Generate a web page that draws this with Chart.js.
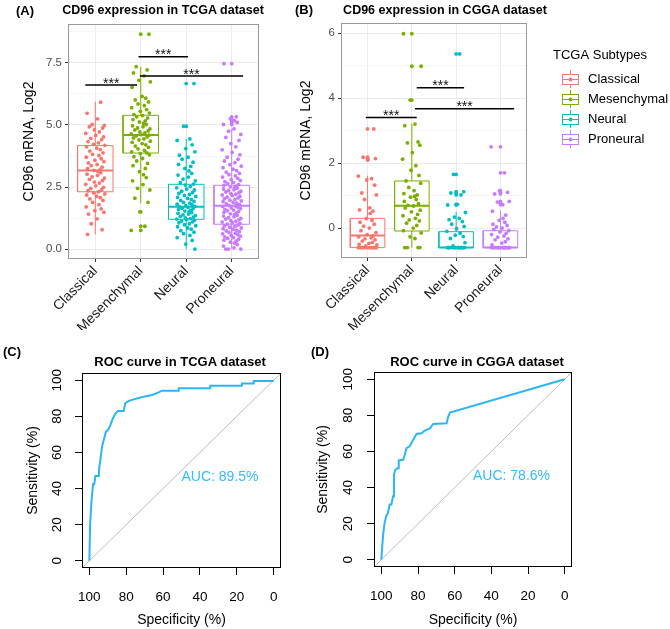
<!DOCTYPE html>
<html>
<head>
<meta charset="utf-8">
<script src="https://cdn.jsdelivr.net/npm/chart.js@4.4.1/dist/chart.umd.min.js"></script>
<style>
  body { margin: 0; background: #fff; width: 670px; height: 629px; position: relative; overflow: hidden; font-family: 'Liberation Sans', Arial, sans-serif; }
  canvas { position: absolute; }
  .lbl { position: absolute; white-space: nowrap; transform: translate(-50%, -50%); font-weight: bold; color: #000; }
</style>
</head>
<body>
<canvas id="chartA" width="290" height="330" style="left:0;top:0"></canvas>
<canvas id="chartB" width="380" height="330" style="left:290px;top:0"></canvas>
<canvas id="chartC" width="300" height="309" style="left:0;top:320px"></canvas>
<canvas id="chartD" width="370" height="309" style="left:300px;top:320px"></canvas>

<div class="lbl" style="left:25px;top:10px;font-size:13px">(A)</div>
<div class="lbl" style="left:163px;top:10px;font-size:12.5px">CD96 expression in TCGA dataset</div>
<div class="lbl" style="left:304px;top:9px;font-size:13px">(B)</div>
<div class="lbl" style="left:445px;top:10px;font-size:12.5px">CD96 expression in CGGA dataset</div>
<div class="lbl" style="left:12px;top:351px;font-size:13px">(C)</div>
<div class="lbl" style="left:180px;top:361px;font-size:13px">ROC curve in TCGA dataset</div>
<div class="lbl" style="left:320px;top:351px;font-size:13px">(D)</div>
<div class="lbl" style="left:477px;top:361px;font-size:13px">ROC curve in CGGA dataset</div>

<script>
const FONT = "'Liberation Sans', Arial, sans-serif";
Chart.defaults.font.family = FONT;
Chart.defaults.animation = false;

const subtypes = ['Classical', 'Mesenchymal', 'Neural', 'Proneural'];
const subtypeColors = ['#F8766D', '#7CAE00', '#00BFC4', '#C77CFF'];

// --- panel A: TCGA, CD96 mRNA (log2) per subtype ---
const tcgaClassical = [5.92, 5.47, 5.25, 5.02, 4.98, 4.93, 4.88, 4.80, 4.72, 4.66, 4.58, 4.52, 4.46, 4.41, 4.33, 4.28, 4.22, 4.18, 4.12, 4.07,
  4.01, 3.95, 3.88, 3.82, 3.77, 3.70, 3.64, 3.58, 3.52, 3.47, 3.41, 3.36, 3.30, 3.24, 3.19, 3.17, 3.13, 3.08, 3.02, 2.97,
  2.91, 2.86, 2.81, 2.76, 2.70, 2.66, 2.61, 2.55, 2.49, 2.44, 2.39, 2.35, 2.31, 2.27, 2.22, 2.18, 2.13, 2.07, 2.02, 1.96,
  1.88, 1.79, 1.70, 1.62, 1.55, 1.48, 1.41, 1.22, 1.02, 0.78, 0.59];
const tcgaMesenchymal = [8.66, 7.35, 7.22, 7.10, 6.98, 6.80, 6.74, 6.52, 6.15, 6.08, 6.01, 5.93, 5.85, 5.78, 5.70, 5.62, 5.55, 5.48, 5.42, 5.38,
  5.33, 5.28, 5.22, 5.17, 5.12, 5.07, 5.02, 4.97, 4.93, 4.88, 4.84, 4.80, 4.76, 4.72, 4.68, 4.64, 4.61, 4.59, 4.56, 4.52,
  4.48, 4.44, 4.40, 4.35, 4.30, 4.25, 4.20, 4.15, 4.10, 4.04, 3.98, 3.92, 3.88, 3.85, 3.80, 3.72, 3.65, 3.55, 3.45, 3.36,
  3.25, 3.12, 3.00, 2.88, 2.75, 2.60, 2.45, 2.38, 2.05, 1.88, 1.50, 0.92, 0.75];
const tcgaNeural = [6.67, 4.95, 4.44, 4.38, 4.20, 4.05, 3.92, 3.78, 3.70, 3.62, 3.50, 3.41, 3.33, 3.25, 3.15, 3.05, 2.98, 2.90, 2.82, 2.75,
  2.68, 2.62, 2.58, 2.52, 2.47, 2.42, 2.38, 2.33, 2.28, 2.24, 2.20, 2.16, 2.12, 2.08, 2.04, 2.00, 1.96, 1.92, 1.88, 1.85,
  1.81, 1.78, 1.75, 1.72, 1.70, 1.68, 1.65, 1.62, 1.59, 1.56, 1.53, 1.50, 1.47, 1.44, 1.41, 1.38, 1.35, 1.32, 1.29, 1.26,
  1.23, 1.21, 1.19, 1.16, 1.13, 1.10, 1.06, 1.02, 0.98, 0.94, 0.90, 0.85, 0.80, 0.74, 0.68, 0.62, 0.55, 0.46, 0.35, 0.20, 0.00];
const tcgaProneural = [7.47, 5.33, 5.25, 5.18, 5.10, 5.02, 4.84, 4.75, 4.62, 4.50, 4.38, 4.25, 4.12, 4.00, 3.90, 3.80, 3.70, 3.62, 3.55, 3.48,
  3.40, 3.34, 3.28, 3.22, 3.16, 3.10, 3.05, 3.00, 2.95, 2.90, 2.85, 2.80, 2.76, 2.72, 2.68, 2.64, 2.60, 2.57, 2.54, 2.51,
  2.48, 2.45, 2.42, 2.39, 2.36, 2.33, 2.30, 2.27, 2.24, 2.21, 2.18, 2.15, 2.12, 2.09, 2.06, 2.03, 2.00, 1.97, 1.94, 1.91,
  1.88, 1.85, 1.82, 1.79, 1.76, 1.74, 1.72, 1.69, 1.66, 1.63, 1.60, 1.57, 1.54, 1.51, 1.48, 1.45, 1.42, 1.39, 1.36, 1.33,
  1.30, 1.27, 1.24, 1.21, 1.18, 1.15, 1.12, 1.09, 1.06, 1.03, 1.00, 0.97, 0.94, 0.91, 0.88, 0.85, 0.82, 0.79, 0.76, 0.73,
  0.70, 0.67, 0.64, 0.61, 0.58, 0.55, 0.52, 0.49, 0.46, 0.43, 0.40, 0.36, 0.32, 0.28, 0.24, 0.18, 0.12, 0.05, 0.00, 0.00, 0.00];
const tcgaWhiskerLow = [0.59, 1.85, 0.00, 0.00];
const tcgaQ1 = [2.31, 3.87, 1.20, 1.00];
const tcgaMedian = [3.17, 4.60, 1.71, 1.75];
const tcgaQ3 = [4.17, 5.39, 2.61, 2.57];
const tcgaWhiskerHigh = [5.94, 7.35, 4.44, 4.84];
const tcgaSigFrom = [-0.22, 0.95, 0.98];
const tcgaSigTo = [0.92, 2.04, 3.25];
const tcgaSigY = [6.61, 7.75, 6.97];
const tcgaYMajor = [0, 2.5, 5, 7.5];
const tcgaYMinor = [1.25, 3.75, 6.25, 8.75];

// --- panel B: CGGA ---
const cggaClassical = [-0.6, -0.6, -0.6, -0.6, -0.6, -0.6, -0.6, -0.6, -0.6, -0.6, -0.6, -0.6, -0.6, -0.6, -0.6, -0.6,
  -0.55, -0.52, -0.50, -0.47, -0.44, -0.40, -0.36, -0.33, -0.30, -0.27, -0.24, -0.20, -0.14, -0.08, 0.00, 0.06,
  0.12, 0.18, 0.24, 0.29, 0.45, 0.52, 0.56, 0.62, 0.88, 1.02, 1.08, 1.32, 1.48, 1.52, 1.60, 2.10, 2.14, 2.18, 3.05];
const cggaMesenchymal = [-0.6, -0.6, -0.6, -0.6, -0.32, -0.27, -0.15, -0.08, 0.00, 0.08, 0.15, 0.22, 0.25, 0.30, 0.38, 0.42,
  0.50, 0.55, 0.62, 0.68, 0.70, 0.75, 0.82, 0.88, 0.95, 0.98, 1.02, 1.06, 1.15, 1.25, 1.38, 1.45, 1.62, 1.78, 1.92,
  2.12, 2.32, 2.55, 2.62, 2.65, 3.15, 3.20, 3.94, 4.98, 5.98];
const cggaNeural = [-0.6, -0.6, -0.6, -0.6, -0.6, -0.6, -0.6, -0.6, -0.6, -0.6, -0.6, -0.6, -0.6, -0.6, -0.6, -0.6, -0.6, -0.6,
  -0.55, -0.45, -0.32, -0.26, -0.22, -0.16, -0.10, -0.02, 0.05, 0.12, 0.20, 0.26, 0.30, 0.34, 0.48, 0.71, 0.73,
  1.02, 1.08, 1.12, 1.65, 5.36];
const cggaProneural = [-0.6, -0.6, -0.6, -0.6, -0.6, -0.6, -0.6, -0.6, -0.6, -0.6, -0.6, -0.6, -0.6, -0.6, -0.6, -0.6, -0.6,
  -0.6, -0.6, -0.6, -0.6, -0.6, -0.52, -0.46, -0.42, -0.36, -0.33, -0.28, -0.24, -0.20, -0.16, -0.12, -0.08, -0.04,
  0.00, 0.04, 0.08, 0.12, 0.18, 0.24, 0.30, 0.40, 0.52, 0.72, 0.80, 0.82, 1.05, 1.10, 1.15, 1.70, 2.50];
const cggaWhiskerLow = [-0.6, -0.6, -0.6, -0.6];
const cggaQ1 = [-0.6, -0.09, -0.6, -0.6];
const cggaMedian = [-0.23, 0.69, -0.6, -0.6];
const cggaQ3 = [0.30, 1.45, -0.11, -0.08];
const cggaWhiskerHigh = [1.61, 3.21, 0.50, 0.55];
const cggaSigFrom = [-0.04, 1.11, 1.07];
const cggaSigTo = [1.11, 2.18, 3.31];
const cggaSigY = [3.40, 4.32, 3.67];
const cggaYMajor = [0, 2, 4, 6];
const cggaYMinor = [1, 3, 5];

// --- panels C/D: ROC curves (specificity %, sensitivity %) ---
const tcgaSpec = [100, 99.6, 98.9, 98.0, 97.4, 96.7, 94.9, 94.6, 94.0, 93.1, 92.2, 91.0, 89.9, 88.6, 87.3, 85.9, 84.4, 81.4,
  80.5, 78.7, 76.9, 73.2, 70.5, 66.0, 62.4, 60.6, 51.5, 51.5, 34.4, 34.4, 17.2, 17.2, 10.8, 10.8, 0.4, 0];
const tcgaSens = [0, 20.0, 32.4, 42.4, 42.4, 46.9, 46.9, 52.0, 56.0, 63.3, 66.9, 71.5, 72.4, 75.1, 78.7, 81.5, 82.9, 82.9,
  87.3, 88.4, 89.1, 90.2, 90.9, 91.8, 93.3, 94.2, 94.2, 95.5, 95.5, 96.9, 96.9, 98.2, 98.2, 99.6, 99.6, 100];
const cggaSpec = [100, 99.5, 98.9, 98.2, 97.3, 96.4, 95.4, 94.5, 93.6, 93.1, 92.3, 90.9, 90.5, 88.1, 87.2, 86.3, 84.5, 82.7,
  80.8, 78.1, 76.3, 73.5, 71.7, 64.4, 63.5, 62.6, 0];
const cggaSens = [0, 7.7, 15.0, 20.6, 24.2, 26.0, 30.6, 30.6, 35.2, 47.2, 49.9, 50.8, 55.0, 55.4, 58.2, 61.8, 62.8, 66.4,
  69.7, 70.1, 71.6, 72.8, 75.2, 75.6, 79.3, 81.5, 100];
const rocTicks = [0, 20, 40, 60, 80, 100];

// fixed jitter offsets (category units) reused for the point clouds
const JITTER = [0.12, -0.18, 0.05, -0.07, 0.20, -0.13, 0.16, -0.02, 0.09, -0.21, 0.01, 0.18, -0.10, 0.14, -0.16, 0.07, -0.04,
  0.21, -0.19, 0.03, 0.11, -0.12, 0.17, -0.06, 0.08, -0.20, 0.13, -0.01, 0.19, -0.15, 0.04, -0.09, 0.15, -0.17, 0.10, -0.03, 0.06];

function boxDatasets(groups, wLow, q1, med, q3, wHigh) {
    const ds = [];
    const hw = 0.39;
    groups.forEach((vals, i) => {
        const col = subtypeColors[i];
        ds.push({ data: [{x: i, y: wLow[i]}, {x: i, y: wHigh[i]}], showLine: true, borderColor: col, borderWidth: 1, pointRadius: 0, order: 5 });
        ds.push({ data: [{x: i - hw, y: q1[i]}, {x: i + hw, y: q1[i]}, {x: i + hw, y: q3[i]}, {x: i - hw, y: q3[i]}, {x: i - hw, y: q1[i]}],
            showLine: true, fill: 'shape', backgroundColor: '#fff', borderColor: col, borderWidth: 1, pointRadius: 0, order: 4 });
        ds.push({ data: [{x: i - hw, y: med[i]}, {x: i + hw, y: med[i]}], showLine: true, borderColor: col, borderWidth: 2, pointRadius: 0, order: 3 });
        // outliers of the boxplot layer sit on the centre line, the jitter layer repeats every value
        const outl = vals.filter(v => v < wLow[i] || v > wHigh[i]).map(v => ({x: i, y: v}));
        const jit = vals.map((v, k) => ({x: i + JITTER[(k + i * 11) % JITTER.length], y: v}));
        ds.push({ data: outl.concat(jit), showLine: false, pointRadius: 1.9, pointBackgroundColor: col, pointBorderWidth: 0, order: 1 });
    });
    return ds;
}

function sigDatasets(from, to, ys) {
    return from.map((f, i) => ({ data: [{x: f, y: ys[i]}, {x: to[i], y: ys[i]}], showLine: true, borderColor: '#000', borderWidth: 1.5, pointRadius: 0, order: 0 }));
}

function ggScales(yMin, yMax, major, minor, fmt, yWidth, yTitlePad, xHeight) {
    return {
        x: {
            type: 'linear', min: -0.6, max: 3.6,
            afterBuildTicks: s => { s.ticks = subtypes.map((c, i) => ({value: i})); },
            afterFit: s => { s.height = xHeight; },
            ticks: { callback: v => subtypes[v], autoSkip: false, minRotation: 45, maxRotation: 45, font: {size: 14}, color: '#1a1a1a', padding: 1 },
            grid: { color: '#EBEBEB', tickColor: '#333', tickLength: 3 },
            border: { display: false }
        },
        y: {
            min: yMin, max: yMax,
            afterBuildTicks: s => { s.ticks = major.concat(minor).sort((a, b) => a - b).map(v => ({value: v})); },
            afterFit: s => { s.width = yWidth; },
            ticks: { callback: v => major.includes(v) ? fmt(v) : '', autoSkip: false, font: {size: 11.5}, color: '#4D4D4D', padding: 3 },
            grid: {
                color: c => major.includes(c.tick.value) ? '#EBEBEB' : '#F5F5F5',
                tickColor: c => major.includes(c.tick.value) ? '#333' : 'rgba(0,0,0,0)',
                tickLength: 3
            },
            border: { display: false },
            title: { display: true, text: 'CD96 mRNA, Log2', font: {size: 14}, color: '#000', padding: {top: yTitlePad, bottom: 0} }
        }
    };
}

function starsPlugin(from, to, ys) {
    return {
        id: 'stars',
        afterDatasetsDraw(chart) {
            const {ctx, scales: {x, y}} = chart;
            ctx.save();
            ctx.font = `14px ${FONT}`;
            ctx.fillStyle = '#111';
            ctx.textAlign = 'center';
            ctx.textBaseline = 'alphabetic';
            from.forEach((f, i) => {
                ctx.fillText('***', x.getPixelForValue((f + to[i]) / 2), y.getPixelForValue(ys[i]) + 2.5);
            });
            ctx.restore();
        }
    };
}

const panelBorder = {
    id: 'panelBorder',
    afterDraw(chart, args, opts) {
        const {ctx, chartArea: a} = chart;
        ctx.save();
        ctx.strokeStyle = opts.color || '#999';
        ctx.lineWidth = 1;
        ctx.strokeRect(Math.round(a.left) + 0.5, Math.round(a.top) + 0.5, Math.round(a.right - a.left) - 1, Math.round(a.bottom - a.top) - 1);
        ctx.restore();
    }
};

const subtypeLegend = {
    id: 'subtypeLegend',
    afterDraw(chart) {
        const ctx = chart.ctx;
        ctx.save();
        ctx.font = `13px ${FONT}`;
        ctx.textBaseline = 'middle';
        ctx.textAlign = 'left';
        ctx.fillStyle = '#000';
        ctx.fillText('TCGA Subtypes', 263, 55);
        subtypes.forEach((name, i) => {
            const yy = 79 + i * 20;
            const cx = 280;
            const col = subtypeColors[i];
            ctx.strokeStyle = col;
            ctx.lineWidth = 1;
            ctx.beginPath();
            ctx.moveTo(cx + 0.5, yy - 9); ctx.lineTo(cx + 0.5, yy - 5);
            ctx.moveTo(cx + 0.5, yy + 5); ctx.lineTo(cx + 0.5, yy + 9);
            ctx.stroke();
            ctx.fillStyle = '#fff';
            ctx.fillRect(cx - 8, yy - 5, 16, 10);
            ctx.strokeRect(cx - 7.5, yy - 4.5, 16, 10);
            ctx.beginPath();
            ctx.moveTo(cx - 8, yy + 0.5); ctx.lineTo(cx + 8, yy + 0.5);
            ctx.stroke();
            ctx.fillStyle = col;
            ctx.beginPath();
            ctx.arc(cx + 0.5, yy + 0.5, 2, 0, Math.PI * 2);
            ctx.fill();
            ctx.fillStyle = '#000';
            ctx.fillText(name, 298, yy);
        });
        ctx.restore();
    }
};

// panel A
new Chart(document.getElementById('chartA'), {
    type: 'scatter',
    data: { datasets: boxDatasets([tcgaClassical, tcgaMesenchymal, tcgaNeural, tcgaProneural], tcgaWhiskerLow, tcgaQ1, tcgaMedian, tcgaQ3, tcgaWhiskerHigh)
        .concat(sigDatasets(tcgaSigFrom, tcgaSigTo, tcgaSigY)) },
    options: {
        responsive: false,
        layout: { padding: {left: 0, top: 24, right: 31, bottom: 0} },
        scales: ggScales(-0.4, 9.07, tcgaYMajor, tcgaYMinor, v => v.toFixed(1), 68, 21, 71),
        plugins: { legend: {display: false}, tooltip: {enabled: false}, panelBorder: {color: '#999'} }
    },
    plugins: [panelBorder, starsPlugin(tcgaSigFrom, tcgaSigTo, tcgaSigY)]
});

// panel B
new Chart(document.getElementById('chartB'), {
    type: 'scatter',
    data: { datasets: boxDatasets([cggaClassical, cggaMesenchymal, cggaNeural, cggaProneural], cggaWhiskerLow, cggaQ1, cggaMedian, cggaQ3, cggaWhiskerHigh)
        .concat(sigDatasets(cggaSigFrom, cggaSigTo, cggaSigY)) },
    options: {
        responsive: false,
        layout: { padding: {left: 0, top: 23, right: 143, bottom: 0} },
        scales: ggScales(-0.92, 6.31, cggaYMajor, cggaYMinor, v => String(v), 51, 8, 72),
        plugins: { legend: {display: false}, tooltip: {enabled: false}, panelBorder: {color: '#999'} }
    },
    plugins: [panelBorder, starsPlugin(cggaSigFrom, cggaSigTo, cggaSigY), subtypeLegend]
});

function rocChart(id, spec, sens, auc, pad, yWidth, yTickPad, yTitlePad, xHeight) {
    const aucText = {
        id: 'aucText',
        afterDatasetsDraw(chart) {
            const {ctx, scales: {x, y}} = chart;
            ctx.save();
            ctx.font = `14px ${FONT}`;
            ctx.fillStyle = '#33BBFF';
            ctx.textAlign = 'left';
            ctx.textBaseline = 'middle';
            ctx.fillText(auc, x.getPixelForValue(50), y.getPixelForValue(46.5));
            ctx.restore();
        }
    };
    return new Chart(document.getElementById(id), {
        type: 'scatter',
        data: {
            datasets: [
                { data: spec.map((s, i) => ({x: s, y: sens[i]})), showLine: true, borderColor: '#2BB5F7', borderWidth: 2, pointRadius: 0, order: 0 },
                { data: [{x: 104, y: -4}, {x: -4, y: 104}], showLine: true, borderColor: '#BDBDBD', borderWidth: 1, pointRadius: 0, order: 1 }
            ]
        },
        options: {
            responsive: false,
            layout: { padding: pad },
            scales: {
                x: {
                    type: 'linear', reverse: true, min: -4, max: 104,
                    afterBuildTicks: s => { s.ticks = rocTicks.map(v => ({value: v})); },
                    afterFit: s => { s.height = xHeight; },
                    ticks: { font: {size: 13.5}, color: '#000', padding: 14 },
                    grid: { drawOnChartArea: false, tickColor: '#000', tickLength: 7 },
                    border: { display: false },
                    title: { display: true, text: 'Specificity (%)', font: {size: 14}, color: '#000', padding: {top: 0, bottom: 0} }
                },
                y: {
                    min: -4, max: 104,
                    afterBuildTicks: s => { s.ticks = rocTicks.map(v => ({value: v})); },
                    afterFit: s => { s.width = yWidth; },
                    ticks: { font: {size: 13.5}, color: '#000', padding: yTickPad, minRotation: 90, maxRotation: 90, crossAlign: 'center' },
                    grid: { drawOnChartArea: false, tickColor: '#000', tickLength: 7 },
                    border: { display: false },
                    title: { display: true, text: 'Sensitivity (%)', font: {size: 14}, color: '#000', padding: {top: yTitlePad, bottom: 0} }
                }
            },
            plugins: { legend: {display: false}, tooltip: {enabled: false}, panelBorder: {color: '#000'} }
        },
        plugins: [panelBorder, aucText]
    });
}

rocChart('chartC', tcgaSpec, tcgaSens, 'AUC: 89.5%', {left: 0, top: 53, right: 19, bottom: 0}, 82, 6.5, 24.5, 61);
rocChart('chartD', cggaSpec, cggaSens, 'AUC: 78.6%', {left: 0, top: 52, right: 98, bottom: 0}, 74, 7, 14.5, 62);
</script>
</body>
</html>
